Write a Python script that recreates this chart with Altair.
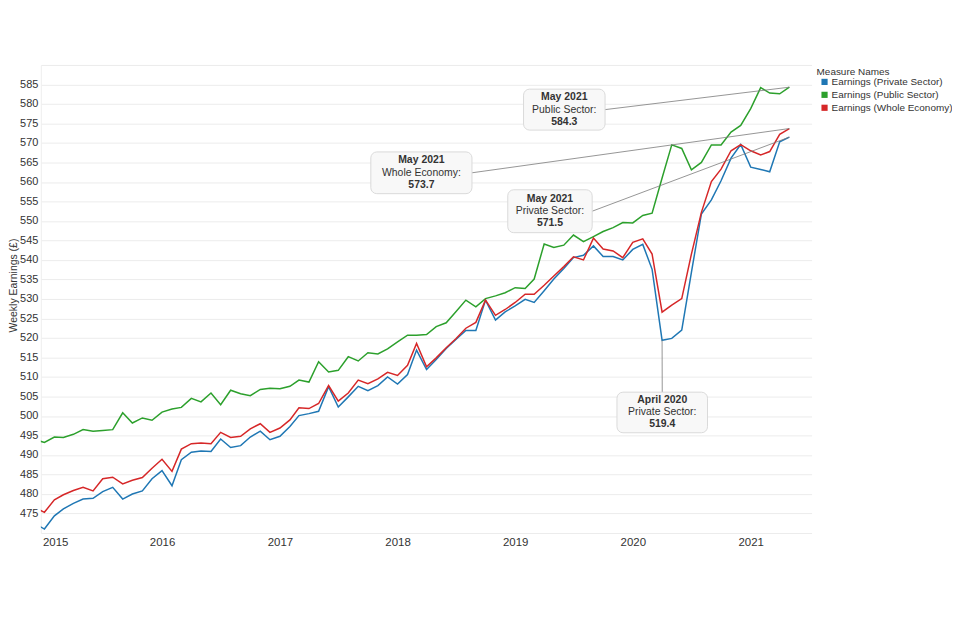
import altair as alt
import pandas as pd

# ---------------- data (monthly, Dec 2014 .. May 2021) ----------------
months = pd.date_range("2014-12-01", "2021-05-01", freq="MS")

private = [472.5,
    471.0, 474.4, 476.2, 477.6, 478.7, 478.9, 480.6, 481.7, 478.7, 480.0, 480.8, 483.9,
    486.0, 482.1, 488.8, 490.7, 491.0, 490.9, 494.1, 491.9, 492.4, 494.6, 496.1, 493.9,
    494.8, 497.3, 500.1, 500.6, 501.2, 507.5, 502.3, 504.9, 507.6, 506.5, 507.8, 510.0,
    508.2, 510.6, 516.9, 511.9, 514.5, 517.3, 519.6, 521.9, 521.9, 529.7, 524.6, 526.7,
    528.2, 529.9, 529.1, 532.1, 535.1, 537.8, 540.6, 541.2, 543.6, 540.9, 540.9, 540.0,
    542.7, 544.0, 537.6, 519.4, 519.9, 522.0, 536.8, 551.8, 555.4, 560.3, 566.1, 569.6,
    563.8, 563.2, 562.6, 570.3, 571.5]

public = [494.0,
    493.2, 494.6, 494.5, 495.3, 496.5, 496.1, 496.3, 496.5, 500.8, 498.2, 499.5, 498.9,
    501.0, 501.8, 502.2, 504.5, 503.6, 505.9, 502.9, 506.6, 505.7, 505.2, 506.8, 507.1,
    507.0, 507.6, 509.2, 508.7, 513.9, 511.3, 511.7, 515.2, 514.1, 516.2, 515.9, 517.2,
    519.0, 520.7, 520.7, 520.9, 522.9, 523.9, 526.7, 529.7, 528.0, 530.1, 530.8, 531.6,
    532.9, 532.7, 535.1, 544.1, 543.2, 543.8, 546.4, 544.7, 546.0, 547.3, 548.3, 549.6,
    549.5, 551.4, 552.0, 561.0, 569.5, 568.6, 563.1, 565.0, 569.5, 569.5, 572.8, 574.5,
    578.8, 584.2, 582.8, 582.6, 584.3]

whole = [476.6,
    475.3, 478.5, 479.8, 480.9, 481.7, 480.8, 483.9, 484.3, 482.6, 483.5, 484.2, 486.6,
    488.9, 485.8, 491.5, 492.9, 493.1, 492.9, 495.8, 494.5, 494.8, 496.7, 498.0, 495.8,
    496.9, 499.0, 502.1, 501.9, 503.2, 507.8, 503.8, 505.9, 509.2, 508.3, 509.5, 511.2,
    510.4, 513.0, 518.6, 512.6, 514.9, 517.5, 519.8, 522.5, 524.0, 529.7, 525.8, 527.3,
    529.1, 531.2, 531.2, 533.5, 535.9, 538.3, 540.8, 540.0, 545.6, 542.8, 542.3, 540.6,
    544.5, 545.4, 541.5, 526.6, 528.4, 530.1, 541.5, 552.2, 560.1, 563.3, 568.0, 569.6,
    568.0, 566.9, 567.8, 572.2, 573.7]

series_names = ["Earnings (Private Sector)", "Earnings (Public Sector)", "Earnings (Whole Economy)"]
series_colors = ["#1f77b4", "#2ca02c", "#d62728"]
year_ticks = [2015, 2016, 2017, 2018, 2019, 2020, 2021]
y_ticks = list(range(470, 591, 5))

# annotations (label text + placement in data units)
ann_line1 = ["May 2021", "May 2021", "May 2021", "April 2020"]
ann_line2 = ["Public Sector:", "Whole Economy:", "Private Sector:", "Private Sector:"]
ann_line3 = ["584.3", "573.7", "571.5", "519.4"]
ann_point_date = ["2021-05-01", "2021-05-01", "2021-05-01", "2020-04-01"]
ann_point_value = [584.3, 573.7, 571.5, 519.4]
box_date0 = ["2019-01-27", "2017-10-10", "2018-12-09", "2019-11-13"]
box_date1 = ["2019-10-07", "2018-08-20", "2019-08-28", "2020-08-20"]
box_val_top = [583.8, 567.7, 558.0, 506.1]
box_val_bot = [573.3, 557.0, 547.0, 495.7]

# ---------------- tables ----------------
rows = []
for name, vals in zip(series_names, [private, public, whole]):
    for d, v in zip(months, vals):
        rows.append({"date": d.strftime("%Y-%m-%dT00:00:00"), "value": v, "Measure Names": name})
df = pd.DataFrame(rows)

ann = pd.DataFrame({
    "l1": ann_line1, "l2": ann_line2, "l3": ann_line3,
    "pd": [d + "T00:00:00" for d in ann_point_date], "pv": ann_point_value,
    "bx0": [d + "T00:00:00" for d in box_date0], "bx1": [d + "T00:00:00" for d in box_date1],
    "by0": box_val_top, "by1": box_val_bot,
})
b0 = pd.to_datetime(ann["bx0"])
b1 = pd.to_datetime(ann["bx1"])
ann["cx"] = (b0 + (b1 - b0) / 2).dt.strftime("%Y-%m-%dT%H:%M:%S")
ann["cy"] = (ann["by0"] + ann["by1"]) / 2
# connector start: right-middle of a box that sits left of its point, top-middle of a box below it
below = [ann["pv"][i] > ann["by0"][i] and ann["pd"][i] <= ann["bx1"][i] for i in range(len(ann))]
ann["sx"] = [ann["cx"][i] if below[i] else ann["bx1"][i] for i in range(len(ann))]
ann["sy"] = [ann["by0"][i] if below[i] else ann["cy"][i] for i in range(len(ann))]

FONT = "Liberation Sans"
xscale = alt.Scale(domain=[alt.DateTime(year=2014, month=12, date=21),
                           alt.DateTime(year=2021, month=7, date=9)])
yscale = alt.Scale(domain=[470, 590], nice=False, zero=False)

xaxis = alt.Axis(title=None, values=[alt.DateTime(year=y, month=1, date=1) for y in year_ticks],
                 format="%Y", grid=False, domain=False, ticks=False, labelFontSize=11.5,
                 labelColor="#333333", labelPadding=4, labelFlush=6, labelFlushOffset=2,
                 labelFont=FONT)
yaxis = alt.Axis(title="Weekly Earnings (£)", values=y_ticks,
                 labelExpr="datum.value == 470 || datum.value == 590 ? '' : datum.label",
                 labelOverlap=False, grid=True, gridColor="#ececec", domain=True,
                 domainColor="#eeeeee", ticks=False, labelFontSize=11, labelColor="#333333",
                 labelPadding=3, titleFontSize=10.5, titleFontWeight="normal",
                 titleColor="#333333", titleX=-22, titleY=221, labelFont=FONT, titleFont=FONT)

color_scale = alt.Scale(domain=series_names, range=series_colors)


def X(f):
    return alt.X(f, type="temporal", scale=xscale, axis=xaxis)


def Y(f):
    return alt.Y(f, type="quantitative", scale=yscale, axis=yaxis)


lines = alt.Chart(df).mark_line(strokeWidth=1.5, clip=True).encode(
    x=X("date"),
    y=Y("value"),
    color=alt.Color("Measure Names:N", scale=color_scale,
                    legend=alt.Legend(title="Measure Names", orient="none", direction="vertical",
                                      legendX=779, legendY=2, padding=0, symbolType="square",
                                      symbolSize=9, symbolStrokeWidth=3.2,
                                      symbolOffset=3, labelOffset=2, titleFontSize=10,
                                      labelFontSize=10, titleFontWeight="normal",
                                      titlePadding=0, rowPadding=-5, titleColor="#333333",
                                      labelColor="#333333", labelLimit=0,
                                      titleFont=FONT, labelFont=FONT)),
)

abase = alt.Chart(ann)
connectors = abase.mark_rule(color="#7a7a7a", strokeWidth=0.8).encode(
    x=X("sx"), x2="pd:T", y=Y("sy"), y2="pv:Q")
boxes = abase.mark_rect(cornerRadius=6, fill="#f8f8f8", stroke="#dadada", strokeWidth=1).encode(
    x=X("bx0"), x2="bx1:T", y=Y("by0"), y2="by1:Q")
t1 = abase.mark_text(font=FONT, fontSize=10.5, fontWeight="bold", color="#333333", dy=-12.5).encode(
    x=X("cx"), y=Y("cy"), text="l1:N")
t2 = abase.mark_text(font=FONT, fontSize=10.5, color="#333333", dy=0).encode(
    x=X("cx"), y=Y("cy"), text="l2:N")
t3 = abase.mark_text(font=FONT, fontSize=10.5, fontWeight="bold", color="#333333", dy=12).encode(
    x=X("cx"), y=Y("cy"), text="l3:N")

chart = alt.layer(lines, connectors, boxes, t1, t2, t3).properties(
    width=774, height=470,
    autosize=alt.AutoSizeParams(type="none"),
    padding={"left": 33, "top": 56, "right": 141, "bottom": 40},
    background="white",
).configure(font=FONT).configure_view(stroke="transparent", strokeWidth=0)

chart.save("out.html", embed_options={"renderer": "svg", "actions": False})
